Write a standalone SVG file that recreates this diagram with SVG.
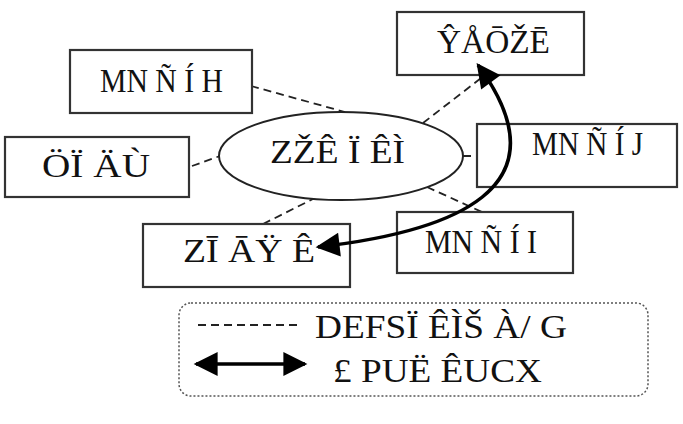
<svg xmlns="http://www.w3.org/2000/svg" width="683" height="424" viewBox="0 0 683 424">
<style>
.box{fill:#fff;stroke:#333;stroke-width:2.2}
.dash{fill:none;stroke:#222;stroke-width:1.8;stroke-dasharray:8 5}
.t{font-family:"Liberation Serif","DejaVu Serif",serif;font-size:34px;fill:#111}
.arr{fill:none;stroke:#000;stroke-width:3.5;marker-start:url(#ah);marker-end:url(#ah)}
</style>
<defs>
<marker id="ah" viewBox="0 0 10 10" refX="9" refY="5" markerUnits="userSpaceOnUse" markerWidth="30" markerHeight="24" orient="auto-start-reverse">
<path d="M0,0 L10,5 L0,10 z" fill="#000"/>
</marker>
</defs>
<rect width="683" height="424" fill="#fff"/>
<g id="connectors">
<line class="dash" x1="251" y1="86" x2="345" y2="112"/>
<line class="dash" x1="192" y1="166" x2="220" y2="156"/>
<line class="dash" x1="423" y1="123" x2="485" y2="75"/>
<line class="dash" x1="463" y1="156" x2="477" y2="156"/>
<line class="dash" x1="427" y1="187" x2="482" y2="212"/>
<line class="dash" x1="263" y1="224" x2="315" y2="198"/>
</g>
<g id="n1"><rect class="box" x="70" y="50" width="182" height="63"/><text class="t" x="100" y="92" textLength="123" lengthAdjust="spacingAndGlyphs">MN Ñ Í H</text></g>
<g id="n2"><rect class="box" x="5" y="137" width="184" height="60"/><text class="t" x="42" y="177" textLength="108" lengthAdjust="spacingAndGlyphs">ÖÏ ÄÙ</text></g>
<g id="center"><ellipse cx="341" cy="156" rx="122" ry="44" fill="#fff" stroke="#222" stroke-width="2"/><text class="t" x="270" y="163" textLength="135" lengthAdjust="spacingAndGlyphs">ZŽÊ Ï ÊÌ</text></g>
<g id="n3"><rect class="box" x="397" y="12" width="187" height="63"/><text class="t" x="437" y="53" textLength="113" lengthAdjust="spacingAndGlyphs">ŶÅŌŽĒ</text></g>
<g id="n4"><rect class="box" x="477" y="124" width="200" height="63"/><text class="t" x="532" y="155" textLength="111" lengthAdjust="spacingAndGlyphs">MN Ñ Í J</text></g>
<g id="n5"><rect class="box" x="143" y="224" width="207" height="63"/><text class="t" x="183" y="262" textLength="132" lengthAdjust="spacingAndGlyphs">ZĪ ĀŸ Ê</text></g>
<g id="n6"><rect class="box" x="397" y="212" width="176" height="61"/><text class="t" x="425" y="253" textLength="112" lengthAdjust="spacingAndGlyphs">MN Ñ Í I</text></g>
<g id="curve"><path class="arr" d="M318 247 C450 232 570 190 478 65"/></g>
<g id="legend">
<rect x="179" y="303" width="469" height="93" rx="12" fill="none" stroke="#555" stroke-width="1.5" stroke-dasharray="2 2"/>
<line class="dash" x1="198" y1="325" x2="297" y2="325"/>
<line class="arr" x1="196" y1="364" x2="305" y2="364"/>
<text class="t" x="315" y="338" textLength="252" lengthAdjust="spacingAndGlyphs">DEFSÏ ÊÌŠ À/ G</text>
<text class="t" x="333" y="382" textLength="209" lengthAdjust="spacingAndGlyphs">£ PUË ÊUCX</text>
</g>
</svg>
